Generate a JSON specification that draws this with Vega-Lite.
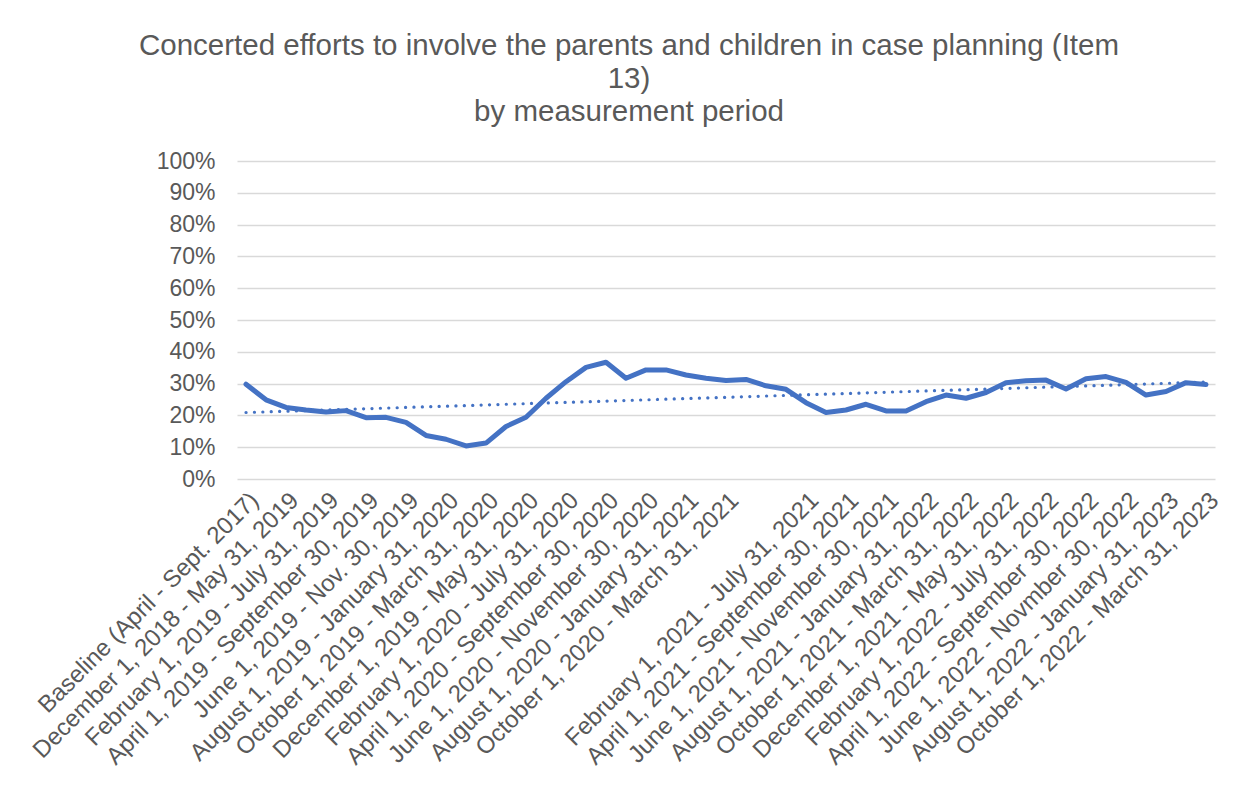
{
  "$schema": "https://vega.github.io/schema/vega-lite/v6.json",
  "width": 978,
  "height": 318,
  "autosize": {"type": "none"},
  "padding": {"left": 237, "top": 161, "right": 29, "bottom": 312},
  "background": "white",
  "config": {"view": {"stroke": null}, "font": "Liberation Sans"},
  "title": {
    "text": ["Concerted efforts to involve the parents and children in case planning (Item", "13)", "by measurement period"],
    "fontSize": 29.5,
    "font": "Liberation Sans",
    "fontWeight": "normal",
    "color": "#595959",
    "lineHeight": 33,
    "anchor": "middle",
    "dx": -97,
    "offset": 23
  },
  "datasets": {
    "series": [
      {"i": 0, "period": "Baseline (April - Sept. 2017)", "value": 0.298},
      {"i": 1, "period": "November 1, 2018 - April 30, 2019", "value": 0.249},
      {"i": 2, "period": "December 1, 2018 - May 31, 2019", "value": 0.225},
      {"i": 3, "period": "January 1, 2019 - June 30, 2019", "value": 0.217},
      {"i": 4, "period": "February 1, 2019 - July 31, 2019", "value": 0.211},
      {"i": 5, "period": "March 1, 2019 - August 31, 2019", "value": 0.215},
      {"i": 6, "period": "April 1, 2019 - September 30, 2019", "value": 0.193},
      {"i": 7, "period": "May 1, 2019 - October 31, 2019", "value": 0.194},
      {"i": 8, "period": "June 1, 2019 - Nov. 30, 2019", "value": 0.178},
      {"i": 9, "period": "July 1, 2019 - December 31, 2019", "value": 0.137},
      {"i": 10, "period": "August 1, 2019 - January 31, 2020", "value": 0.125},
      {"i": 11, "period": "September 1, 2019 - February 29, 2020", "value": 0.104},
      {"i": 12, "period": "October 1, 2019 - March 31, 2020", "value": 0.113},
      {"i": 13, "period": "November 1, 2019 - April 30, 2020", "value": 0.165},
      {"i": 14, "period": "December 1, 2019 - May 31, 2020", "value": 0.194},
      {"i": 15, "period": "January 1, 2020 - June 30, 2020", "value": 0.254},
      {"i": 16, "period": "February 1, 2020 - July 31, 2020", "value": 0.306},
      {"i": 17, "period": "March 1, 2020 - August 31, 2020", "value": 0.351},
      {"i": 18, "period": "April 1, 2020 - September 30, 2020", "value": 0.367},
      {"i": 19, "period": "May 1, 2020 - October 31, 2020", "value": 0.317},
      {"i": 20, "period": "June 1, 2020 - November 30, 2020", "value": 0.343},
      {"i": 21, "period": "July 1, 2020 - December 31, 2020", "value": 0.343},
      {"i": 22, "period": "August 1, 2020 - January 31, 2021", "value": 0.327},
      {"i": 23, "period": "September 1, 2020 - February 28, 2021", "value": 0.317},
      {"i": 24, "period": "October 1, 2020 - March 31, 2021", "value": 0.31},
      {"i": 25, "period": "November 1, 2020 - April 30, 2021", "value": 0.313},
      {"i": 26, "period": "December 1, 2020 - May 31, 2021", "value": 0.293},
      {"i": 27, "period": "January 1, 2021 - June 30, 2021", "value": 0.282},
      {"i": 28, "period": "February 1, 2021 - July 31, 2021", "value": 0.24},
      {"i": 29, "period": "March 1, 2021 - August 31, 2021", "value": 0.209},
      {"i": 30, "period": "April 1, 2021 - September 30, 2021", "value": 0.217},
      {"i": 31, "period": "May 1, 2021 - October 31, 2021", "value": 0.235},
      {"i": 32, "period": "June 1, 2021 - November 30, 2021", "value": 0.214},
      {"i": 33, "period": "July 1, 2021 - December 31, 2021", "value": 0.214},
      {"i": 34, "period": "August 1, 2021 - January 31, 2022", "value": 0.243},
      {"i": 35, "period": "September 1, 2021 - February 28, 2022", "value": 0.264},
      {"i": 36, "period": "October 1, 2021 - March 31, 2022", "value": 0.254},
      {"i": 37, "period": "November 1, 2021 - April 30, 2022", "value": 0.272},
      {"i": 38, "period": "December 1, 2021 - May 31, 2022", "value": 0.303},
      {"i": 39, "period": "January 1, 2022 - June 30, 2022", "value": 0.309},
      {"i": 40, "period": "February 1, 2022 - July 31, 2022", "value": 0.311},
      {"i": 41, "period": "March 1, 2022 - August 31, 2022", "value": 0.283},
      {"i": 42, "period": "April 1, 2022 - September 30, 2022", "value": 0.315},
      {"i": 43, "period": "May 1, 2022 - October 31, 2022", "value": 0.322},
      {"i": 44, "period": "June 1, 2022 - Novmber 30, 2022", "value": 0.304},
      {"i": 45, "period": "July 1, 2022 - December 31, 2022", "value": 0.264},
      {"i": 46, "period": "August 1, 2022 - January 31, 2023", "value": 0.275},
      {"i": 47, "period": "September 1, 2022 - February 28, 2023", "value": 0.303},
      {"i": 48, "period": "October 1, 2022 - March 31, 2023", "value": 0.297}
    ]
  },
  "data": {"name": "series"},
  "encoding": {
    "x": {
      "field": "period",
      "type": "ordinal",
      "sort": null,
      "scale": {"type": "point", "padding": 0.45},
      "axis": {
        "title": null,
        "values": [
          "Baseline (April - Sept. 2017)",
          "December 1, 2018 - May 31, 2019",
          "February 1, 2019 - July 31, 2019",
          "April 1, 2019 - September 30, 2019",
          "June 1, 2019 - Nov. 30, 2019",
          "August 1, 2019 - January 31, 2020",
          "October 1, 2019 - March 31, 2020",
          "December 1, 2019 - May 31, 2020",
          "February 1, 2020 - July 31, 2020",
          "April 1, 2020 - September 30, 2020",
          "June 1, 2020 - November 30, 2020",
          "August 1, 2020 - January 31, 2021",
          "October 1, 2020 - March 31, 2021",
          "February 1, 2021 - July 31, 2021",
          "April 1, 2021 - September 30, 2021",
          "June 1, 2021 - November 30, 2021",
          "August 1, 2021 - January 31, 2022",
          "October 1, 2021 - March 31, 2022",
          "December 1, 2021 - May 31, 2022",
          "February 1, 2022 - July 31, 2022",
          "April 1, 2022 - September 30, 2022",
          "June 1, 2022 - Novmber 30, 2022",
          "August 1, 2022 - January 31, 2023",
          "October 1, 2022 - March 31, 2023"
        ],
        "labelAngle": -45,
        "labelFontSize": 24,
        "labelFont": "Liberation Sans",
        "labelColor": "#595959",
        "labelLimit": 600,
        "labelOverlap": false,
        "labelPadding": 9,
        "domain": false,
        "ticks": false,
        "grid": false
      }
    },
    "y": {
      "field": "value",
      "type": "quantitative",
      "scale": {"domain": [0, 1]},
      "axis": {
        "title": null,
        "values": [0, 0.1, 0.2, 0.3, 0.4, 0.5, 0.6, 0.7, 0.8, 0.9, 1],
        "tickCount": 20,
        "format": ".0%",
        "labelFontSize": 23,
        "labelFont": "Liberation Sans",
        "labelColor": "#595959",
        "labelPadding": 22,
        "labelOverlap": false,
        "domain": false,
        "ticks": false,
        "gridColor": "#d9d9d9",
        "gridWidth": 1.3
      }
    }
  },
  "layer": [
    {
      "mark": {"type": "line", "color": "#4472C4", "strokeWidth": 5, "strokeJoin": "round", "strokeCap": "round"}
    },
    {
      "transform": [
        {"regression": "value", "on": "i"},
        {"lookup": "i", "from": {"data": {"name": "series"}, "key": "i", "fields": ["period"]}}
      ],
      "mark": {"type": "line", "color": "#4472C4", "strokeWidth": 3.2, "strokeDash": [0.1, 8.3], "strokeCap": "round"}
    }
  ]
}
